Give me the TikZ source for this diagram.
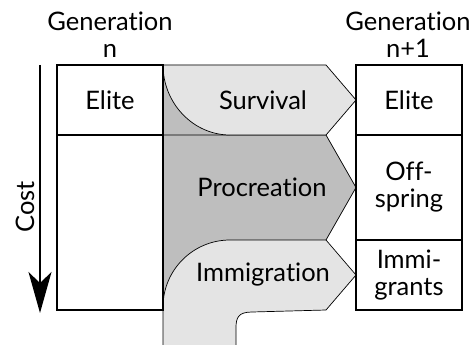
\documentclass[tikz,border=0pt]{standalone}
\usepackage{fontspec}
\setmainfont{Lato}[Ligatures={NoCommon,NoRare}]
\usetikzlibrary{arrows.meta}

\definecolor{flowlight}{RGB}{228,228,228}
\definecolor{flowdark}{RGB}{190,190,190}

\tikzset{
  popbox/.style={draw=black,fill=white,line width=1.4pt,minimum width=106pt,
    inner sep=0pt,align=center,font=\fontsize{25.5}{27}\selectfont},
  flowedge/.style={draw=black,line width=0.7pt},
  flowtext/.style={inner sep=0pt,font=\fontsize{25.5}{27}\selectfont},
}

\begin{document}
\begin{tikzpicture}[x=1pt,y=-1pt]
\path[use as bounding box] (0,0) rectangle (471,345);
\path[fill=white,draw=none] (0,0) rectangle (471,345);

% flows between the generations
\fill[flowdark] (163,65) -- (326,65) -- (326,135) -- (356,187.5) -- (326,240)
  -- (326,310) -- (163,310) -- cycle;
\draw[flowedge] (163,135) -- (326,135) -- (356,187.5) -- (326,240);
\path[fill=flowlight,flowedge] (163,65) -- (326,65) -- (356,100) -- (326,135)
  -- (230,135) .. controls (193,135) and (163,103) .. cycle;
\fill[flowlight] (163,345) -- (163,307) .. controls (163,270) and (193,240) .. (230,240)
  -- (326,240) -- (356,275) -- (326,310) -- (252,312)
  .. controls (238,312) and (236,318) .. (236,328) -- (236,345) -- cycle;
\draw[flowedge] (163,345) -- (163,307) .. controls (163,270) and (193,240) .. (230,240)
  -- (326,240) -- (356,275) -- (326,310) -- (252,312)
  .. controls (238,312) and (236,318) .. (236,328) -- (236,345);

\node[flowtext] (survival) at (263,100) {Survival};
\node[flowtext] (procreation) at (262,187.5) {Procreation};
\node[flowtext] (immigration) at (263,275) {Immigration};

% generation n
\node[popbox,minimum height=70pt] (eliteold) at (110,100) {Elite};
\node[popbox,minimum height=175pt] (restold) at (110,222.5) {};
% generation n+1
\node[popbox,minimum height=70pt] (elitenew) at (409,100) {Elite};
\node[popbox,minimum height=105pt] (offspring) at (409,187.5) {Off-\\spring};
\node[popbox,minimum height=70pt] (immigrants) at (409,275) {Immi-\\grants};

\node[flowtext,align=center] (genold) at (110,35) {Generation\\n};
\node[flowtext,align=center] (gennew) at (408,35) {Generation\\n+1};

% cost axis
\coordinate (costtop) at (40,65);
\coordinate (costend) at (40,313);
\draw[line width=1.4pt,-{Stealth[length=41pt,width=23pt,inset=11pt]}] (costtop) -- (costend);
\node[flowtext,rotate=90] (cost) at (25,207) {Cost};
\end{tikzpicture}
\end{document}
